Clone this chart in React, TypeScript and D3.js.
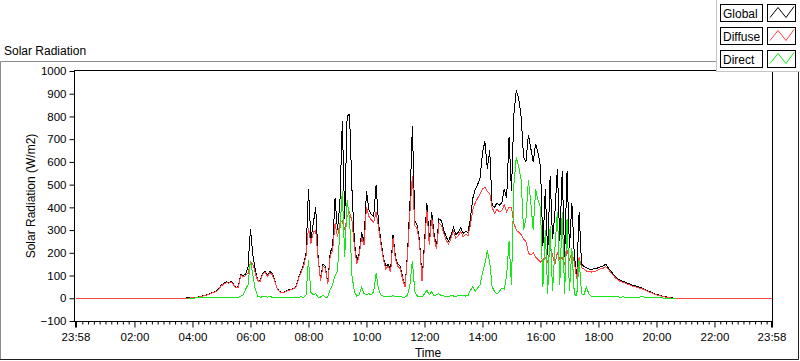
import React, { useEffect, useRef } from 'react';
import * as d3 from 'd3';

// 5-minute samples from 03:00 to 21:00, one row per hour
const startMinute = 180;
const stepMinutes = 5;
const nightGlobal = 0;
const nightDiffuse = -1;

const globalRad = [
  0, 0, 0, 0, 0, 0, 0, 0, 1, 1, 2, 2,
  3, 4, 5, 7, 10, 13, 16, 20, 25, 28, 33, 45,
  58, 65, 72, 70, 74, 62, 48, 52, 105, 100, 105, 140,
  305, 190, 125, 80, 75, 110, 120, 100, 118, 110, 80, 45,
  30, 26, 28, 33, 38, 40, 45, 55, 95, 120, 150, 200,
  480, 260, 330, 400, 180, 80, 150, 140, 66, 200, 230, 440,
  300, 420, 780, 350, 800, 810, 480, 250, 160, 200, 290, 250,
  470, 390, 370, 360, 500, 330, 250, 180, 140, 150, 125, 280,
  180, 150, 140, 90, 55, 200, 420, 760, 340, 320, 250, 80,
  240, 420, 250, 380, 280, 230, 350, 340, 300, 270, 250, 280,
  310, 280, 290, 310, 285, 295, 290, 350, 440, 480, 500, 530,
  640, 690, 570, 650, 410, 400, 420, 410, 420, 480, 440, 710,
  470, 810, 915, 880, 800, 620, 600, 720, 660, 600, 680, 640,
  580, 230, 480, 190, 540, 260, 380, 570, 250, 560, 180, 560,
  220, 420, 190, 95, 380, 150, 140, 135, 130, 125, 130, 130,
  135, 140, 142, 150, 135, 120, 108, 95, 85, 78, 74, 71,
  66, 62, 58, 55, 52, 48, 46, 40, 35, 30, 26, 21,
  17, 14, 11, 8, 6, 4, 2, 1, 0, 0, 0, 0,
  0,
];

const diffuseRad = [
  -1, -1, -1, -1, -1, -1, -1, -1, 0, 0, 1, 1,
  2, 3, 4, 6, 9, 11, 14, 18, 23, 26, 31, 42,
  55, 62, 68, 67, 70, 59, 45, 49, 100, 95, 100, 110,
  160, 150, 110, 78, 72, 105, 115, 96, 112, 104, 76, 43,
  28, 25, 27, 31, 36, 38, 43, 52, 90, 114, 142, 185,
  310, 240, 290, 300, 170, 76, 140, 132, 62, 185, 210, 330,
  270, 330, 340, 300, 360, 380, 340, 230, 150, 190, 270, 235,
  400, 360, 345, 335, 380, 310, 235, 170, 130, 140, 115, 265,
  170, 140, 130, 82, 50, 190, 380, 540, 320, 305, 238, 75,
  225, 390, 235, 355, 265, 215, 330, 322, 285, 255, 238, 265,
  295, 265, 275, 295, 270, 282, 275, 320, 390, 420, 440, 460,
  480, 490, 470, 460, 400, 375, 390, 380, 385, 410, 380, 400,
  400, 330, 300, 290, 280, 260, 250, 200, 190, 200, 180, 170,
  160, 170, 180, 160, 220, 190, 150, 200, 170, 180, 150, 210,
  170, 200, 160, 85, 180, 135, 128, 120, 118, 115, 120, 120,
  125, 130, 132, 140, 128, 115, 102, 90, 81, 74, 70, 67,
  62, 58, 54, 51, 48, 44, 42, 37, 32, 27, 24, 19,
  15, 12, 10, 7, 5, 3, 1, 0, -1, -1, -1, -1,
  -1,
];

const directRad = [
  null, null, null, null, null, null, null, null, null, null, 0, 0,
  1, 1, 2, 2, 2, 3, 2, 3, 3, 2, 3, 3,
  3, 4, 3, 4, 3, 3, 4, 5, 10, 15, 40, 60,
  165, 100, 40, 8, 5, 6, 8, 5, 7, 5, 4, 3,
  3, 3, 4, 3, 4, 3, 4, 5, 5, 6, 5, 15,
  170, 25, 15, 20, 5, 5, 15, 5, 5, 40, 60, 100,
  120, 300, 470, 180, 430, 350, 100, 30, 10, 15, 50, 20,
  15, 20, 15, 30, 110, 40, 15, 10, 8, 10, 8, 12,
  8, 10, 8, 5, 5, 15, 60, 165, 30, 10, 8, 5,
  20, 35, 15, 30, 10, 15, 20, 12, 10, 10, 8, 12,
  10, 8, 12, 10, 14, 10, 12, 35, 50, 30, 45, 60,
  110, 150, 210, 160, 50, 30, 20, 30, 45, 40, 100, 250,
  60, 500, 620, 580, 520, 300, 350, 520, 420, 300, 480, 430,
  400, 50, 300, 20, 320, 30, 220, 380, 60, 380, 20, 350,
  30, 220, 20, 10, 170, 20, 15, 50, 20, 10, 8, 8,
  8, 7, 7, 8, 7, 6, 8, 6, 6, 5, 6, 5,
  5, 5, 5, 4, 4, 5, 10, 4, 3, 3, 3, 2,
  2, 2, 2, 1, 1, 1, 1, 0, 0, null, null, null,
  null,
];

const yTicks = [-100, 0, 100, 200, 300, 400, 500, 600, 700, 800, 900, 1000];
const xTickMinutes = [-2, 120, 240, 360, 480, 600, 720, 840, 960, 1080, 1200, 1320, 1438];
const xTickLabels = ['23:58', '02:00', '04:00', '06:00', '08:00', '10:00', '12:00', '14:00', '16:00', '18:00', '20:00', '22:00', '23:58'];
const legendNames = ['Global', 'Diffuse', 'Direct'];
const seriesColors = ['#000000', '#ff4343', '#16e816'];

const FONT = '"Liberation Sans", Arial, sans-serif';

const App = () => {
  const svgRef = useRef(null);
  const width = 800;
  const height = 361;
  const plot = { left: 74.5, top: 70.5, right: 772.5, bottom: 321.5 };

  useEffect(() => {
    const svg = d3.select(svgRef.current);
    svg.selectAll('*').remove();

    const x = d3.scaleLinear().domain([-2, 1438]).range([75.5, 771.5]);
    const y = d3.scaleLinear().domain([-100, 1000]).range([321, 71]);

    // outer frame
    svg.append('rect').attr('width', width).attr('height', height).attr('fill', '#ffffff');
    svg.append('path').attr('d', `M0.5,360 V61.5 H720`).attr('fill', 'none').attr('stroke', '#8c8c8c');
    svg.append('path').attr('d', `M0,359.5 H798.5 V61`).attr('fill', 'none').attr('stroke', '#202020');

    svg.append('text')
      .attr('x', 4).attr('y', 55)
      .style('font', `12px ${FONT}`)
      .text('Solar Radiation');

    svg.append('clipPath').attr('id', 'plotclip')
      .append('rect')
      .attr('x', plot.left).attr('y', plot.top)
      .attr('width', plot.right - plot.left).attr('height', plot.bottom - plot.top);

    const makeSeries = (vals, night) => {
      const pts = vals.map((v, i) => ({ t: startMinute + i * stepMinutes, v }));
      if (night === null) return pts;
      return [{ t: -2, v: night }, ...pts, { t: 1438, v: night }];
    };
    const series = [
      makeSeries(globalRad, nightGlobal),
      makeSeries(diffuseRad, nightDiffuse),
      makeSeries(directRad, null),
    ];

    const line = d3.line()
      .defined(d => d.v !== null)
      .x(d => x(d.t))
      .y(d => y(d.v));

    const g = svg.append('g').attr('clip-path', 'url(#plotclip)');
    series.forEach((s, i) => {
      g.append('path')
        .datum(s)
        .attr('d', line)
        .attr('fill', 'none')
        .attr('stroke', seriesColors[i])
        .attr('stroke-width', 1)
        .attr('shape-rendering', 'crispEdges');
    });

    // plot border
    svg.append('rect')
      .attr('x', plot.left).attr('y', plot.top)
      .attr('width', plot.right - plot.left).attr('height', plot.bottom - plot.top)
      .attr('fill', 'none').attr('stroke', '#000');

    // y axis
    svg.append('g')
      .attr('transform', `translate(${plot.left},0)`)
      .call(d3.axisLeft(y).tickValues(yTicks).tickSize(5).tickPadding(3).tickFormat(d3.format('d')))
      .call(a => a.select('.domain').remove())
      .call(a => a.selectAll('text').style('font', `11.5px ${FONT}`).attr('fill', '#000'));

    // x axis minor ticks
    const minor = d3.range(0, 1440, 12).filter(m => m % 120 !== 0);
    svg.append('g')
      .attr('transform', `translate(0,${plot.bottom})`)
      .call(d3.axisBottom(x).tickValues(minor).tickSize(3).tickFormat(() => ''))
      .call(a => a.select('.domain').remove());

    svg.append('g')
      .attr('transform', `translate(0,${plot.bottom})`)
      .call(d3.axisBottom(x).tickValues(xTickMinutes).tickSize(6).tickPadding(5)
        .tickFormat((d, i) => xTickLabels[i]))
      .call(a => a.select('.domain').remove())
      .call(a => a.selectAll('text').style('font', `11.5px ${FONT}`).attr('fill', '#000'))
      .call(a => a.selectAll('line').filter((d, i) => i === 0 || i === xTickMinutes.length - 1)
        .attr('stroke-width', 2));

    svg.append('text')
      .attr('x', 428).attr('y', 357)
      .attr('text-anchor', 'middle')
      .style('font', `12px ${FONT}`)
      .text('Time');

    svg.append('text')
      .attr('transform', `translate(35,${(plot.top + plot.bottom) / 2}) rotate(-90)`)
      .attr('text-anchor', 'middle')
      .style('font', `12px ${FONT}`)
      .text('Solar Radiation (W/m2)');

    // legend
    const lg = svg.append('g');
    lg.append('rect')
      .attr('x', 716.5).attr('y', -1).attr('width', 90).attr('height', 72.5)
      .attr('fill', '#ffffff').attr('stroke', '#c4c4c4');
    legendNames.forEach((name, i) => {
      const by = 4.5 + i * 23;
      lg.append('rect').attr('x', 720.5).attr('y', by).attr('width', 42).attr('height', 17)
        .attr('fill', '#fff').attr('stroke', '#000');
      lg.append('text').attr('x', 723).attr('y', by + 13)
        .style('font', `12px ${FONT}`).text(name);
      lg.append('rect').attr('x', 767.5).attr('y', by).attr('width', 28).attr('height', 17)
        .attr('fill', '#fff').attr('stroke', '#000');
      lg.append('path')
        .attr('d', `M${770},${by + 13} L${778},${by + 3} L${786},${by + 13} L${794},${by + 2}`)
        .attr('fill', 'none').attr('stroke', seriesColors[i]);
    });
  }, []);

  return (
    <svg ref={svgRef} width={width} height={height}
      style={{ position: 'absolute', left: 0, top: 0, display: 'block' }}></svg>
  );
};

export default App;
